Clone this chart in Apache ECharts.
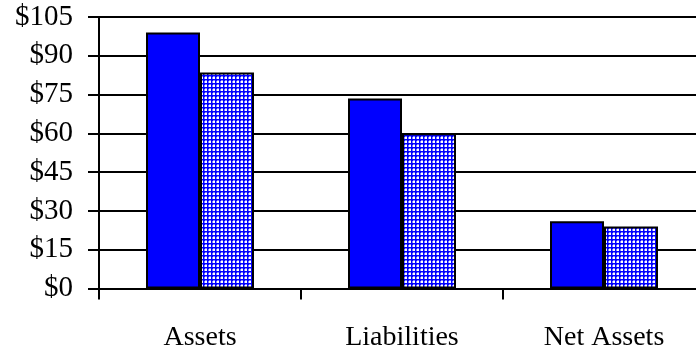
<!DOCTYPE html>
<html>
<head>
<meta charset="utf-8">
<script src="https://cdn.jsdelivr.net/npm/echarts@6/dist/echarts.min.js"></script>
<style>
  html, body { margin: 0; padding: 0; background: #fff; }
  #chart { width: 696px; height: 353px; }
</style>
</head>
<body>
<div id="chart"></div>
<script>
const categories = ["Assets", "Liabilities", "Net Assets"];
const seriesA = [99, 73.5, 26];
const seriesB = [83.5, 60, 24];

// small checkered tile for the second series
function checkerTile() {
  const c = document.createElement("canvas");
  c.width = 4;
  c.height = 4;
  const ctx = c.getContext("2d");
  ctx.fillStyle = "#0000ff";
  ctx.fillRect(0, 0, 4, 4);
  ctx.fillStyle = "#ffffff";
  ctx.fillRect(1, 1, 2, 2);
  ctx.fillStyle = "#8080ff";
  ctx.fillRect(0, 1, 1, 2);
  ctx.fillRect(1, 0, 2, 1);
  return c;
}

const chart = echarts.init(document.getElementById("chart"));
const font = "Liberation Serif";

chart.setOption({
  animation: false,
  // plot runs a bit past the right edge of the picture
  grid: {
    left: 99,
    top: 17,
    width: 606,
    bottom: 64.5,
    containLabel: false,
    outerBoundsMode: "none",
  },
  xAxis: {
    type: "category",
    data: categories,
    axisLine: { lineStyle: { color: "#000", width: 2 } },
    axisTick: { show: true, length: 11, lineStyle: { color: "#000", width: 2 } },
    axisLabel: { color: "#000", fontFamily: font, fontSize: 28, margin: 35 },
  },
  yAxis: {
    type: "value",
    min: 0,
    max: 105,
    interval: 15,
    axisLine: { show: true, lineStyle: { color: "#000", width: 2 } },
    axisTick: { show: true, length: 11, lineStyle: { color: "#000", width: 2 } },
    splitLine: { show: true, lineStyle: { color: "#000", width: 2 } },
    axisLabel: {
      color: "#000",
      fontFamily: font,
      fontSize: 29,
      margin: 26,
      formatter: "${value}",
    },
  },
  series: [
    {
      type: "bar",
      data: seriesA,
      barWidth: 54,
      barGap: "0%",
      itemStyle: { color: "#0000ff", borderColor: "#000", borderWidth: 2 },
    },
    {
      type: "bar",
      data: seriesB,
      barWidth: 54,
      itemStyle: {
        color: { image: checkerTile(), repeat: "repeat" },
        borderColor: "#000",
        borderWidth: 2,
      },
    },
  ],
});
</script>
</body>
</html>
